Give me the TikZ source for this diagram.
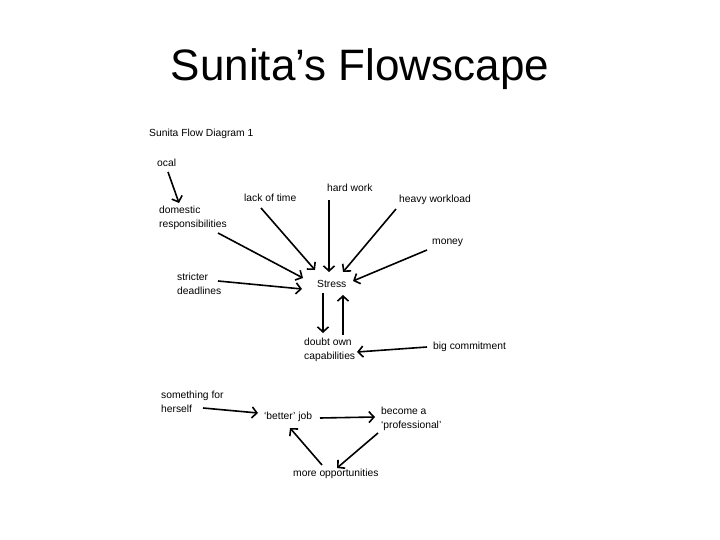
\documentclass[tikz,border=0pt]{standalone}
\usepackage{fontspec}
\setmainfont{Liberation Sans}
\usetikzlibrary{arrows.meta}
\begin{document}
\begin{tikzpicture}[x=1pt,y=-1pt,
  lbl/.style={anchor=west,inner sep=0pt,font=\fontsize{10.3}{14}\selectfont,align=left},
  arr/.style={line width=1.6pt,-{Straight Barb[length=5pt,width=11pt,line width=1.6pt]}}]
\useasboundingbox (0,0) rectangle (720,540);
\node[inner sep=0pt,font=\fontsize{44}{48}\selectfont] (title) at (360,69) {Sunita’s Flowscape};
\node[lbl] (hdr) at (149,134) {Sunita Flow Diagram 1};
\node[lbl] (ocal) at (157,163) {ocal};
\node[lbl] (dom) at (159,218) {domestic\\responsibilities};
\node[lbl] (lack) at (244,198) {lack of time};
\node[lbl] (hard) at (327,188) {hard work};
\node[lbl] (heavy) at (399,200) {heavy workload};
\node[lbl] (money) at (432,243) {money};
\node[lbl] (strict) at (177,284) {stricter\\deadlines};
\node[lbl] (stress) at (317,284) {Stress};
\node[lbl] (doubt) at (304,350) {doubt own\\capabilities};
\node[lbl] (big) at (433,347) {big commitment};
\node[lbl] (some) at (161,401.5) {something for\\herself};
\node[lbl] (better) at (264,417) {‘better’ job};
\node[lbl] (become) at (381,419) {become a\\‘professional’};
\node[lbl] (more) at (293,474) {more opportunities};
% connector end points beside the nodes
\coordinate (ocal-o) at (168,172);   \coordinate (dom-i) at (179,203);
\coordinate (dom-o) at (218,233);    \coordinate (stress-i1) at (303,278);
\coordinate (lack-o) at (261,208);   \coordinate (stress-i2) at (315,270);
\coordinate (hard-o) at (329,200);   \coordinate (stress-i3) at (329,272);
\coordinate (heavy-o) at (396,209);  \coordinate (stress-i4) at (343,272);
\coordinate (money-o) at (427,250);  \coordinate (stress-i5) at (353,281);
\coordinate (strict-o) at (218,281); \coordinate (stress-i6) at (302,289);
\coordinate (stress-o) at (323,293); \coordinate (doubt-i1) at (323,333);
\coordinate (doubt-o) at (343,335);  \coordinate (stress-i7) at (343,295);
\coordinate (big-o) at (427,347);    \coordinate (doubt-i2) at (357,352);
\coordinate (some-o) at (203,408);   \coordinate (better-i1) at (258,413);
\coordinate (better-o) at (320,418); \coordinate (become-i) at (375,417);
\coordinate (become-o) at (378,433); \coordinate (more-i) at (337,468);
\coordinate (more-o) at (322,465);   \coordinate (better-i2) at (290,428);
\draw[arr] (ocal-o) -- (dom-i);
\draw[arr] (dom-o) -- (stress-i1);
\draw[arr] (lack-o) -- (stress-i2);
\draw[arr] (hard-o) -- (stress-i3);
\draw[arr] (heavy-o) -- (stress-i4);
\draw[arr] (money-o) -- (stress-i5);
\draw[arr] (strict-o) -- (stress-i6);
\draw[arr] (stress-o) -- (doubt-i1);
\draw[arr] (doubt-o) -- (stress-i7);
\draw[arr] (big-o) -- (doubt-i2);
\draw[arr] (some-o) -- (better-i1);
\draw[arr] (better-o) -- (become-i);
\draw[arr] (become-o) -- (more-i);
\draw[arr] (more-o) -- (better-i2);
\end{tikzpicture}
\end{document}
